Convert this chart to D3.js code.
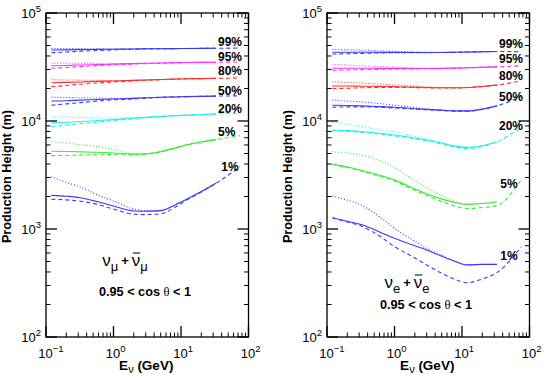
<!DOCTYPE html>
<html><head><meta charset="utf-8">
<script src="https://cdn.jsdelivr.net/npm/d3@7"></script>
<style>
html,body{margin:0;padding:0;background:#fff;}
svg{display:block;}
text{font-family:"Liberation Sans",Arial,Helvetica,sans-serif;}
</style></head>
<body>
<svg id="chart" width="545" height="375"></svg>
<script>
// ---- data ----
const energies = [0.12, 0.2, 0.32, 0.6, 1, 2, 3, 5, 8, 12, 20, 33];
const energiesDash = [0.12, 0.2, 0.32, 0.6, 1, 2, 3, 5, 8, 12, 20, 33, 75];
const percentiles = ["99%", "95%", "80%", "50%", "20%", "5%", "1%"];
const colors = ["#3a3aff", "#ff30ff", "#ff3030", "#3a3aff", "#20f0f0", "#30f030", "#3a3aff"];

// nu_mu + nubar_mu
const mu99Solid = [45400,45600,45800,46000,46200,46400,46600,46700,46800,46900,47000,47100];
const mu99Dot   = [47000,46900,46800,46600,46400,46400,46600,46700,46800,46900,47000,47100];
const mu99Dash  = [42800,43500,44200,45000,45600,46200,46500,46700,46800,46900,47000,47100,47400];
const mu95Solid = [32500,32700,33000,33300,33600,34000,34200,34400,34600,34800,34900,35000];
const mu95Dot   = [34400,34300,34200,34100,34000,34100,34200,34400,34600,34800,34900,35000];
const mu95Dash  = [30800,31300,31900,32600,33100,33700,34000,34300,34600,34800,34900,35000,35200];
const mu80Solid = [22600,22800,23000,23300,23500,23800,24000,24200,24400,24600,24700,24800];
const mu80Dot   = [24100,24000,23900,23800,23700,23800,24000,24200,24400,24600,24700,24800];
const mu80Dash  = [20800,21300,21900,22500,23000,23500,23800,24100,24400,24600,24700,24800,25000];
const mu50Solid = [15300,15400,15600,15800,16000,16200,16400,16600,16700,16800,16900,17000];
const mu50Dot   = [16600,16500,16400,16300,16200,16300,16400,16600,16700,16800,16900,17000];
const mu50Dash  = [14000,14400,14800,15300,15700,16000,16300,16500,16700,16800,16900,17000,17100];
const mu20Solid = [9640,9750,9900,10100,10300,10600,10800,11000,11200,11300,11450,11600];
const mu20Dot   = [10900,10850,10800,10700,10650,10700,10850,11000,11200,11300,11450,11600];
const mu20Dash  = [8850,9150,9450,9800,10100,10500,10750,11000,11200,11300,11450,11600,11700];
const mu5Solid  = [5250,5220,5180,5130,5050,4930,4980,5200,5600,6000,6400,6750];
const mu5Dot    = [6430,6250,6050,5780,5450,4980,4980,5200,5600,6000,6400,6750];
const mu5Dash   = [4780,4800,4830,4870,4880,4850,4920,5200,5600,6000,6400,6750,7310];
const mu1Solid  = [2050,2010,1950,1780,1630,1470,1460,1480,1660,1880,2220,2650];
const mu1Dot    = [3050,2700,2450,2050,1820,1530,1480,1480,1660,1880,2220,2650];
const mu1Dash   = [1885,1860,1810,1680,1530,1370,1360,1380,1580,1850,2200,2650,3770];

// nu_e + nubar_e
const e99Solid = [43300,43300,43300,43200,43200,43100,43100,43100,43300,43500,43800,44000];
const e99Dot   = [46100,45700,45300,44700,44200,43600,43300,43200,43300,43500,43800,44000];
const e99Dash  = [41700,42000,42300,42700,42900,43000,43000,43100,43300,43500,43800,44000,43800];
const e95Solid = [30800,30800,30800,30700,30700,30600,30600,30700,30900,31100,31400,31700];
const e95Dot   = [33500,33000,32500,31900,31500,31000,30800,30700,30900,31100,31400,31700];
const e95Dash  = [29500,29700,29900,30100,30300,30400,30500,30600,30900,31100,31400,31700,32500];
const e80Solid = [21100,21100,21000,20900,20800,20600,20400,20300,20300,20400,20900,21500];
const e80Dot   = [23100,22800,22500,22000,21600,21000,20700,20400,20300,20400,20900,21500];
const e80Dash  = [19900,20100,20300,20500,20500,20400,20300,20200,20200,20400,20900,21500,23500];
const e50Solid = [14000,13900,13800,13600,13400,13000,12800,12600,12400,12400,12900,13800];
const e50Dot   = [15600,15300,15000,14500,14000,13300,12900,12600,12400,12400,12900,13800];
const e50Dash  = [13400,13500,13500,13400,13200,12900,12700,12500,12300,12300,12800,13800,16800];
const e20Solid = [8260,8150,8000,7700,7420,6950,6670,6250,5850,5700,5900,6430];
const e20Dot   = [9730,9300,8900,8300,7940,7200,6800,6300,5850,5700,5900,6430];
const e20Dash  = [8100,8000,7850,7550,7300,6850,6550,6100,5700,5550,5800,6430,8690];
const e5Solid  = [3970,3750,3500,3150,2850,2350,2120,1900,1750,1690,1720,1790];
const e5Dot    = [5200,5050,4850,4300,3700,2800,2400,2050,1800,1700,1720,1790];
const e5Dash   = [3970,3720,3450,3080,2780,2280,2050,1800,1620,1550,1580,1650,2850];
const e1Solid  = [1270,1180,1100,940,820,700,640,560,500,465,470,470];
const e1Dot    = [2020,1850,1670,1300,1015,770,663,570,500,465,470,470];
const e1Dash   = [1270,1160,1066,860,686,540,464,390,340,318,345,395,680];

const xTickLabels = ["-1", "0", "1", "2"];
const yTickLabels = ["2", "3", "4", "5"];

const panels = [
  { left: 46, right: 248.5,
    series: [[mu99Solid,mu99Dot,mu99Dash],[mu95Solid,mu95Dot,mu95Dash],[mu80Solid,mu80Dot,mu80Dash],
             [mu50Solid,mu50Dot,mu50Dash],[mu20Solid,mu20Dot,mu20Dash],[mu5Solid,mu5Dot,mu5Dash],[mu1Solid,mu1Dot,mu1Dash]],
    labelPos: [[230,41.7],[230,56.7],[230,70.7],[230,90.7],[230,108.3],[226.7,131.7],[230,166.7]],
    flavor: "μ", flavorPos: [125, 262], cosPos: [145, 291] },
  { left: 327, right: 529.5,
    series: [[e99Solid,e99Dot,e99Dash],[e95Solid,e95Dot,e95Dash],[e80Solid,e80Dot,e80Dash],
             [e50Solid,e50Dot,e50Dash],[e20Solid,e20Dot,e20Dash],[e5Solid,e5Dot,e5Dash],[e1Solid,e1Dot,e1Dash]],
    labelPos: [[511,43.3],[511,58.3],[511,76],[511,96.7],[511,126],[509,184],[509,255.7]],
    flavor: "e", flavorPos: [407, 284], cosPos: [426, 304.3] }
];

const plotTop = 13, plotBottom = 337;
const svg = d3.select("#chart");

panels.forEach(p => {
  const x = d3.scaleLog().domain([0.1, 100]).range([p.left, p.right]);
  const y = d3.scaleLog().domain([100, 100000]).range([plotBottom, plotTop]);
  const g = svg.append("g");

  // curves
  const line = d3.line().x(d => x(d[0])).y(d => y(d[1])).curve(d3.curveMonotoneX);
  const styles = [null, "1,2", "4,3"];
  p.series.forEach((trip, i) => {
    trip.forEach((vals, k) => {
      const xs = vals.length === energiesDash.length ? energiesDash : energies;
      g.append("path")
        .datum(xs.map((e, j) => [e, vals[j]]))
        .attr("d", line)
        .attr("fill", "none")
        .attr("stroke", colors[i])
        .attr("stroke-width", 1.1)
        .attr("stroke-dasharray", styles[k]);
    });
  });

  // frame
  g.append("rect").attr("x", p.left).attr("y", plotTop)
    .attr("width", p.right - p.left).attr("height", plotBottom - plotTop)
    .attr("fill", "none").attr("stroke", "#000").attr("stroke-width", 1.3);

  // ticks
  const majorLen = 11, minorLen = 4.5;
  const xt = [];
  for (let d = -1; d < 2; d++) for (let m = 1; m < 10; m++) xt.push([m * Math.pow(10, d), m === 1]);
  xt.push([100, true]);
  xt.forEach(([v, maj]) => {
    const L = maj ? majorLen : minorLen, px = x(v);
    g.append("line").attr("x1", px).attr("x2", px).attr("y1", plotBottom).attr("y2", plotBottom - L)
      .attr("stroke", "#000").attr("stroke-width", maj ? 1.3 : 1);
    g.append("line").attr("x1", px).attr("x2", px).attr("y1", plotTop).attr("y2", plotTop + L)
      .attr("stroke", "#000").attr("stroke-width", maj ? 1.3 : 1);
  });
  const yt = [];
  for (let d = 2; d < 5; d++) for (let m = 1; m < 10; m++) yt.push([m * Math.pow(10, d), m === 1]);
  yt.push([100000, true]);
  yt.forEach(([v, maj]) => {
    const L = maj ? majorLen : minorLen, py = y(v);
    g.append("line").attr("x1", p.left).attr("x2", p.left + L).attr("y1", py).attr("y2", py)
      .attr("stroke", "#000").attr("stroke-width", maj ? 1.3 : 1);
    g.append("line").attr("x1", p.right).attr("x2", p.right - L).attr("y1", py).attr("y2", py)
      .attr("stroke", "#000").attr("stroke-width", maj ? 1.3 : 1);
  });

  // tick labels
  xTickLabels.forEach(s => {
    const px = x(Math.pow(10, +s));
    const t = g.append("text").attr("x", px - 7.7).attr("y", 358).attr("font-size", 13).attr("text-anchor", "start");
    t.append("tspan").text("10");
    t.append("tspan").attr("dy", -6).attr("font-size", 9.5).text(s === "-1" ? "−1" : s);
  });
  yTickLabels.forEach(s => {
    const py = y(Math.pow(10, +s));
    const t = g.append("text").attr("x", p.left - 5).attr("y", py + 5).attr("font-size", 13).attr("text-anchor", "end");
    t.append("tspan").text("10");
    t.append("tspan").attr("dy", -6).attr("font-size", 9.5).text(s);
  });

  // percent labels
  percentiles.forEach((s, i) => {
    g.append("text").attr("x", p.labelPos[i][0]).attr("y", p.labelPos[i][1] + 4.2)
      .attr("text-anchor", "middle").attr("font-size", 12).attr("font-weight", "bold").text(s);
  });

  // axis titles
  const cx = (p.left + p.right) / 2 - 1;
  const xl = g.append("text").attr("x", cx).attr("y", 370).attr("text-anchor", "middle")
    .attr("font-size", 13.5).attr("font-weight", "bold");
  xl.append("tspan").text("E");
  xl.append("tspan").attr("dy", 3).attr("font-size", 11).attr("font-weight", "normal").text("ν");
  xl.append("tspan").attr("dy", -3).text(" (GeV)");
  g.append("text").attr("transform", `translate(${p.left - 35},${(plotTop + plotBottom) / 2 + 1.5}) rotate(-90)`)
    .attr("text-anchor", "middle").attr("font-size", 12.7).attr("font-weight", "bold")
    .text("Production Height (m)");

  // flavor annotation: nu_f + nubar_f
  const fg = g.append("g");
  let cur = 0;
  const addT = (txt, size, dy, weight, fam) => {
    const t = fg.append("text").attr("x", cur).attr("y", dy).attr("font-size", size)
      .attr("font-weight", weight || "normal").text(txt);
    if (fam) t.attr("font-family", fam);
    const w = t.node().getComputedTextLength();
    const start = cur; cur += w; return [start, w];
  };
  addT("ν", 17, 0, "normal", "Liberation Serif");
  addT(p.flavor, 13, 5, "normal", "Liberation Serif");
  cur += 3;
  addT("+", 13, -1, "bold");
  cur += 3;
  const [bs, bw] = addT("ν", 17, 0, "normal", "Liberation Serif");
  fg.append("line").attr("x1", bs + 1).attr("x2", bs + bw).attr("y1", -13).attr("y2", -13)
    .attr("stroke", "#000").attr("stroke-width", 1);
  addT(p.flavor, 13, 5, "normal", "Liberation Serif");
  fg.attr("transform", `translate(${p.flavorPos[0] - cur / 2},${p.flavorPos[1] + 4})`);

  // cos theta
  const ct = g.append("text").attr("x", p.cosPos[0]).attr("y", p.cosPos[1] + 4.5)
    .attr("text-anchor", "middle").attr("font-size", 12.7).attr("font-weight", "bold");
  ct.append("tspan").text("0.95 < cos ");
  ct.append("tspan").attr("font-weight", "normal").attr("font-family", "Liberation Serif").text("θ");
  ct.append("tspan").text(" < 1");
});
</script>
</body></html>
